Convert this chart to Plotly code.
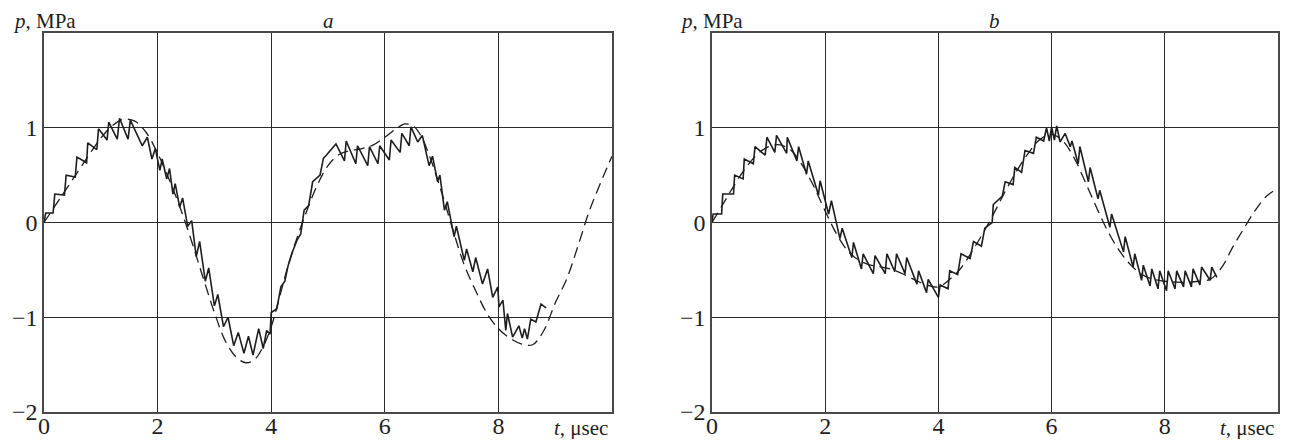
import plotly.graph_objects as go

# panel a: measured (solid) and computed (dashed) pressure, t in microseconds, p in MPa
ta_solid = [0.00, 0.03, 0.16, 0.19, 0.36, 0.39, 0.55, 0.58, 0.75, 0.77, 0.93, 0.96,
            1.11, 1.14, 1.29, 1.33, 1.48, 1.52, 1.73, 1.82, 1.90, 1.96, 2.04, 2.08,
            2.16, 2.21, 2.27, 2.31, 2.39, 2.44, 2.53, 2.60, 2.68, 2.74, 2.84, 2.90,
            3.00, 3.06, 3.16, 3.24, 3.34, 3.42, 3.52, 3.60, 3.68, 3.78, 3.86, 3.92,
            3.98, 4.00, 4.10, 4.17, 4.24, 4.30, 4.38, 4.46, 4.52, 4.56, 4.58, 4.66,
            4.73, 4.86, 4.92, 4.97, 5.14, 5.29, 5.32, 5.49, 5.52, 5.70, 5.73, 5.88,
            5.91, 6.08, 6.11, 6.27, 6.30, 6.43, 6.46, 6.58, 6.66, 6.78, 6.84, 6.93,
            6.97, 7.05, 7.10, 7.22, 7.26, 7.40, 7.44, 7.55, 7.60, 7.72, 7.81, 7.90,
            7.99, 8.01, 8.08, 8.13, 8.16, 8.25, 8.36, 8.42, 8.46, 8.51, 8.57, 8.66,
            8.75, 8.84]
pa_solid = [0.00, 0.10, 0.10, 0.30, 0.29, 0.50, 0.48, 0.69, 0.63, 0.84, 0.77, 0.99,
            0.87, 1.06, 0.88, 1.10, 0.88, 1.08, 0.81, 0.90, 0.67, 0.78, 0.55, 0.67,
            0.46, 0.57, 0.30, 0.41, 0.16, 0.26, -0.04, 0.02, -0.36, -0.20, -0.62, -0.48,
            -0.88, -0.76, -1.10, -1.00, -1.30, -1.16, -1.38, -1.20, -1.40, -1.12, -1.33, -1.14,
            -1.18, -0.95, -0.91, -0.68, -0.62, -0.45, -0.30, -0.18, -0.12, 0.02, 0.13, 0.18,
            0.43, 0.50, 0.68, 0.71, 0.83, 0.65, 0.86, 0.62, 0.81, 0.60, 0.80, 0.62,
            0.81, 0.66, 0.87, 0.74, 0.94, 0.81, 1.01, 0.85, 0.92, 0.60, 0.70, 0.43,
            0.50, 0.13, 0.22, -0.15, -0.04, -0.40, -0.28, -0.52, -0.37, -0.65, -0.49, -0.79,
            -0.68, -0.89, -0.82, -1.14, -0.96, -1.21, -1.09, -1.22, -1.12, -1.23, -1.02, -1.05,
            -0.86, -0.90]

ta_dash = [0.0, 0.2, 0.4, 0.6, 0.8, 1.0, 1.2, 1.4, 1.6, 1.8, 2.0, 2.2, 2.4, 2.6, 2.8,
           3.0, 3.2, 3.4, 3.55, 3.7, 3.85, 4.0, 4.15, 4.3, 4.45, 4.6, 4.8, 5.0, 5.2,
           5.4, 5.6, 5.8, 6.0, 6.2, 6.35, 6.5, 6.65, 6.8, 7.0, 7.2, 7.4, 7.6, 7.8,
           8.0, 8.2, 8.4, 8.6, 8.8, 9.0, 9.2, 9.4, 9.6, 9.8, 10.0]
pa_dash = [0.0, 0.18, 0.36, 0.54, 0.72, 0.89, 1.02, 1.09, 1.07, 0.95, 0.73, 0.46, 0.15, -0.2, -0.58,
           -0.95, -1.26, -1.43, -1.48, -1.45, -1.32, -1.1, -0.78, -0.45, -0.17, 0.08, 0.38, 0.6, 0.72,
           0.76, 0.78, 0.82, 0.9, 0.99, 1.04, 1.02, 0.9, 0.68, 0.32, -0.08, -0.45, -0.72, -0.96,
           -1.12, -1.22, -1.28, -1.29, -1.14, -0.85, -0.6, -0.25, 0.12, 0.42, 0.7]

# panel b
tb_solid = [0.00, 0.02, 0.17, 0.19, 0.38, 0.40, 0.55, 0.57, 0.73, 0.76, 0.94, 0.97,
            1.11, 1.14, 1.32, 1.33, 1.50, 1.53, 1.67, 1.70, 1.88, 1.91, 2.06, 2.11,
            2.26, 2.30, 2.47, 2.50, 2.64, 2.67, 2.85, 2.88, 3.06, 3.09, 3.23, 3.26,
            3.41, 3.44, 3.62, 3.65, 3.79, 3.82, 4.00, 4.03, 4.17, 4.20, 4.34, 4.40,
            4.56, 4.62, 4.76, 4.82, 4.95, 4.97, 5.13, 5.18, 5.32, 5.35, 5.47, 5.53,
            5.68, 5.73, 5.86, 5.91, 5.96, 6.00, 6.05, 6.09, 6.15, 6.24, 6.33, 6.36,
            6.47, 6.50, 6.65, 6.68, 6.82, 6.85, 7.03, 7.06, 7.27, 7.30, 7.44, 7.47,
            7.59, 7.62, 7.74, 7.77, 7.88, 7.91, 8.03, 8.06, 8.18, 8.21, 8.33, 8.36,
            8.47, 8.50, 8.62, 8.65, 8.80, 8.83, 8.92]
pb_solid = [0.00, 0.09, 0.09, 0.30, 0.30, 0.50, 0.46, 0.67, 0.62, 0.80, 0.71, 0.90,
            0.74, 0.92, 0.73, 0.90, 0.65, 0.80, 0.51, 0.65, 0.29, 0.44, 0.09, 0.23,
            -0.17, -0.06, -0.37, -0.21, -0.49, -0.33, -0.54, -0.35, -0.54, -0.33, -0.52, -0.33,
            -0.54, -0.37, -0.65, -0.51, -0.74, -0.60, -0.79, -0.66, -0.70, -0.51, -0.55, -0.33,
            -0.38, -0.20, -0.25, -0.06, 0.00, 0.19, 0.28, 0.43, 0.40, 0.58, 0.53, 0.76,
            0.73, 0.90, 0.86, 1.00, 0.86, 1.01, 0.87, 1.02, 0.85, 0.94, 0.80, 0.86,
            0.62, 0.80, 0.43, 0.58, 0.25, 0.34, -0.05, 0.09, -0.31, -0.15, -0.47, -0.33,
            -0.61, -0.45, -0.67, -0.49, -0.70, -0.51, -0.72, -0.51, -0.70, -0.51, -0.68, -0.51,
            -0.68, -0.49, -0.66, -0.47, -0.61, -0.47, -0.58]

tb_dash = [0.0, 0.2, 0.4, 0.6, 0.8, 1.0, 1.2, 1.4, 1.6, 1.8, 2.0, 2.2, 2.4, 2.6, 2.8,
           3.0, 3.2, 3.4, 3.6, 3.8, 4.0, 4.2, 4.4, 4.6, 4.8, 5.0, 5.2, 5.4, 5.6, 5.8,
           6.0, 6.2, 6.4, 6.6, 6.8, 7.0, 7.2, 7.4, 7.6, 7.8, 8.0, 8.2, 8.4, 8.6, 8.8,
           9.0, 9.2, 9.4, 9.6, 9.8, 10.0]
pb_dash = [0.0, 0.2, 0.4, 0.58, 0.72, 0.8, 0.82, 0.76, 0.6, 0.38, 0.12, -0.12, -0.3, -0.4, -0.45,
           -0.47, -0.5, -0.55, -0.61, -0.66, -0.68, -0.6, -0.48, -0.3, -0.1, 0.12, 0.35, 0.56, 0.74, 0.88,
           0.93, 0.86, 0.68, 0.42, 0.15, -0.1, -0.3, -0.45, -0.55, -0.6, -0.62, -0.63, -0.63, -0.62, -0.6,
           -0.48, -0.26, -0.06, 0.13, 0.28, 0.36]

x_ticks = [0, 2, 4, 6, 8]
y_ticks = [-2, -1, 0, 1]
y_tick_text = ["\u22122", "\u22121", "0", "1"]

# the page body keeps its default 8px margin, so the figure is 16px smaller
# than the window and page pixels are mapped with that offset
OFF = 8
W, H = 1295 - 2 * OFF, 447 - 2 * OFF


def fx(X):
    return (X - OFF) / W


def fy(Y):
    return 1 - (Y - OFF) / H


serif = "Liberation Serif, DejaVu Serif, serif"
ink = "#1e1e1e"

fig = go.Figure()

panels = [("x", "y", ta_solid, pa_solid, ta_dash, pa_dash),
          ("x2", "y2", tb_solid, pb_solid, tb_dash, pb_dash)]
for xa, ya, ts, ps, td, pd_ in panels:
    fig.add_trace(go.Scatter(x=td, y=pd_, mode="lines", xaxis=xa, yaxis=ya,
                             line=dict(color=ink, width=1.3, dash="11px,6px", shape="spline"),
                             showlegend=False, hoverinfo="skip"))
    fig.add_trace(go.Scatter(x=ts, y=ps, mode="lines", xaxis=xa, yaxis=ya,
                             line=dict(color=ink, width=1.6),
                             showlegend=False, hoverinfo="skip"))

ax = dict(showgrid=True, gridcolor="#2b2b2b", gridwidth=1, zeroline=False,
          showline=True, linecolor="#4a4a4a", linewidth=1.5, mirror=True,
          ticks="", automargin=False, fixedrange=True,
          tickfont=dict(family=serif, size=24, color=ink))
xax = dict(ax, range=[0, 10], tickvals=x_ticks, ticklabelstandoff=-9)
yax = dict(ax, range=[-2, 2], tickvals=y_ticks, ticktext=y_tick_text,
           domain=[fy(412), fy(33)])

fig.update_layout(
    width=W, height=H,
    margin=dict(l=0, r=0, t=0, b=0),
    paper_bgcolor="white", plot_bgcolor="white",
    xaxis=dict(xax, domain=[fx(44), fx(612)], anchor="y"),
    yaxis=dict(yax, anchor="x"),
    xaxis2=dict(xax, domain=[fx(712), fx(1278)], anchor="y2"),
    yaxis2=dict(yax, anchor="x2"),
)

# axis names and panel letters
lab = dict(family=serif, size=21, color=ink)
for xa, left, letter in [("x", 12, "a"), ("x2", 679, "b")]:
    fig.add_annotation(text="<i>p</i>, MPa", xref="paper", yref="paper", x=fx(left), y=fy(21),
                       xanchor="left", yanchor="middle", showarrow=False, font=lab,
                       borderpad=0)
    fig.add_annotation(text="<i>%s</i>" % letter, xref=xa, yref="paper", x=5, y=fy(21),
                       xanchor="center", yanchor="middle", showarrow=False, font=lab,
                       borderpad=0)
    fig.add_annotation(text="<i>t</i>, \u03bcsec", xref=xa, yref="paper", x=9.45, y=fy(428),
                       xanchor="center", yanchor="middle", showarrow=False, font=lab,
                       borderpad=0)

fig.write_html("out.html")
